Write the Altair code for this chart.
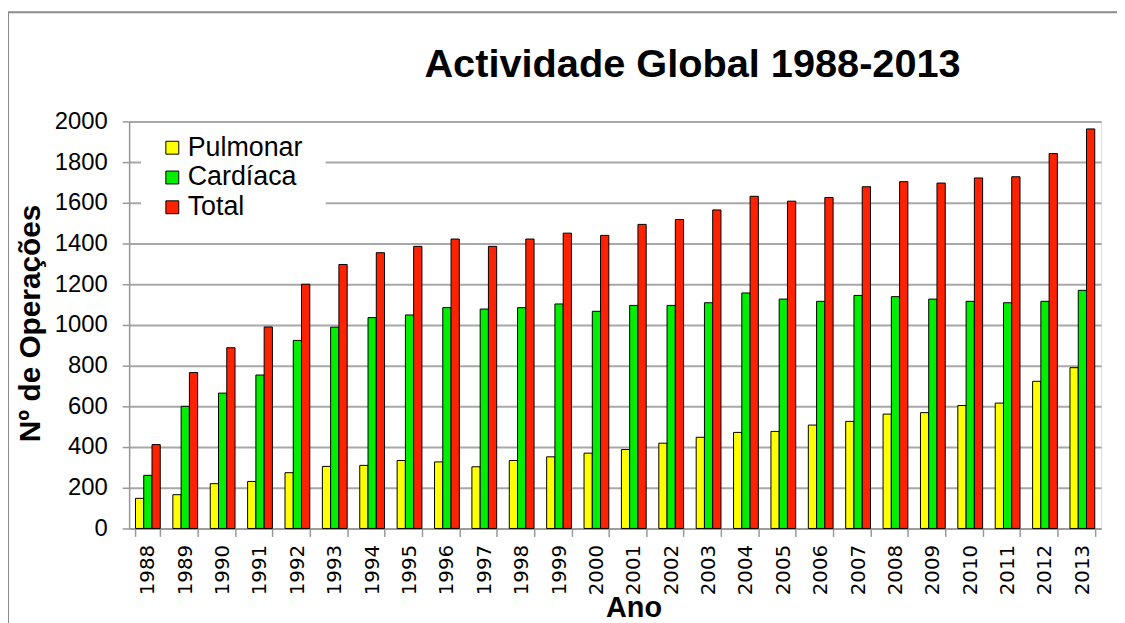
import altair as alt
import pandas as pd

# ---- data ----
years = ["1988", "1989", "1990", "1991", "1992", "1993", "1994", "1995", "1996",
         "1997", "1998", "1999", "2000", "2001", "2002", "2003", "2004", "2005",
         "2006", "2007", "2008", "2009", "2010", "2011", "2012", "2013"]
pulmonar = [148, 166, 220, 231, 274, 305, 310, 334, 327, 303, 334, 352, 370,
            388, 419, 448, 472, 477, 508, 526, 562, 569, 604, 616, 723, 790]
cardiaca = [261, 600, 665, 754, 924, 989, 1036, 1049, 1085, 1078, 1085, 1103, 1067,
            1096, 1096, 1109, 1157, 1127, 1116, 1145, 1139, 1127, 1116, 1109, 1116, 1170]
total = [412, 766, 888, 990, 1200, 1297, 1355, 1386, 1422, 1386, 1422, 1451, 1440,
         1494, 1518, 1565, 1632, 1608, 1626, 1679, 1704, 1697, 1722, 1728, 1842, 1963]
series = ["Pulmonar", "Cardíaca", "Total"]
colors = ["#FFFF00", "#00EE00", "#FF2200"]
y_ticks = [0, 200, 400, 600, 800, 1000, 1200, 1400, 1600, 1800, 2000]

rows = []
for i, yr in enumerate(years):
    for s, vals in zip(series, [pulmonar, cardiaca, total]):
        rows.append({"Ano": yr, "Serie": s, "Valor": vals[i]})
df = pd.DataFrame(rows)

W, H = 979, 410
FONT = "Liberation Sans"

one = pd.DataFrame({"k": [0]})

# outer frame of the chart picture
frame = alt.Chart(one).mark_rect(fill="transparent", stroke="#8c8c8c", strokeWidth=2).encode(
    x=alt.value(-122), x2=alt.value(W + 40), y=alt.value(-110), y2=alt.value(H + 140)
)

# white legend box
legend_box = alt.Chart(one).mark_rect(fill="white").encode(
    x=alt.value(12), x2=alt.value(198), y=alt.value(13), y2=alt.value(100)
)

bars = alt.Chart(df).mark_bar(stroke="black", strokeWidth=1).encode(
    x=alt.X(
        "Ano:N",
        sort=years,
        scale=alt.Scale(paddingInner=0.337, paddingOuter=0.17),
        axis=alt.Axis(
            title="Ano",
            titleFont=FONT,
            titleFontSize=29,
            titleFontWeight="bold",
            titleColor="black",
            titleX=508,
            titleY=80,
            titleBaseline="middle",
            titleAlign="center",
            labelAngle=270,
            labelFont="DejaVu Sans",
            labelFontSize=20,
            labelColor="black",
            labelPadding=8,
            tickSize=8,
            tickBand="extent",
            tickColor="#999999",
            tickWidth=1.5,
            domainColor="#999999",
            domainWidth=1.5,
            grid=False,
        ),
    ),
    xOffset=alt.XOffset("Serie:N", sort=series, scale=alt.Scale(paddingInner=0, paddingOuter=0)),
    y=alt.Y(
        "Valor:Q",
        scale=alt.Scale(domain=[0, 2000], nice=False),
        axis=alt.Axis(
            values=y_ticks,
            format="d",
            title="Nº de Operações",
            titleFont=FONT,
            titleFontSize=30,
            titleFontWeight="bold",
            titleColor="black",
            titleAngle=270,
            titleX=-90,
            titleY=203,
            titleBaseline="alphabetic",
            titleAlign="center",
            labelFont=FONT,
            labelFontSize=24,
            labelColor="black",
            labelPadding=15,
            tickSize=7,
            tickColor="#999999",
            tickWidth=1.5,
            domainColor="#999999",
            domainWidth=1.5,
            grid=True,
            gridColor="#a8a8a8",
            gridWidth=2,
        ),
    ),
    color=alt.Color(
        "Serie:N",
        sort=series,
        scale=alt.Scale(domain=series, range=colors),
        legend=alt.Legend(
            title=None,
            orient="none",
            legendX=30,
            legendY=13,
            padding=0,
            labelFont=FONT,
            labelFontSize=27,
            labelColor="black",
            labelOffset=2,
            symbolType="square",
            symbolSize=169,
            symbolStrokeColor="black",
            symbolStrokeWidth=1,
            symbolOpacity=1,
            rowPadding=2,
        ),
    ),
)

chart = (
    alt.layer(frame, legend_box, bars)
    .properties(
        width=W,
        height=H,
        autosize=alt.AutoSizeParams(type="none"),
        padding={"left": 122, "top": 112, "right": 16, "bottom": 93},
        title=alt.TitleParams(
            "Actividade Global 1988-2013",
            font=FONT,
            fontSize=40,
            fontWeight="bold",
            color="black",
            anchor="middle",
            dx=78,
            offset=-74,
        ),
    )
    .configure_view(fill="#f2f2f2", stroke="#444444", strokeWidth=1.5)
    .configure(background="white")
)

chart.save("out.html", embed_options={"renderer": "svg", "actions": False})
